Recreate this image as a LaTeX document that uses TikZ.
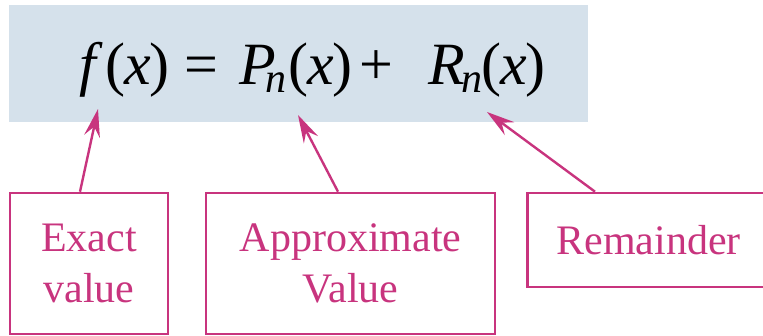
\documentclass[tikz,border=0pt]{standalone}
\usepackage{fontspec}
\setmainfont{Liberation Serif}
\usetikzlibrary{arrows.meta,calc}
\definecolor{mag}{HTML}{C8347E}
\definecolor{bluebg}{HTML}{D5E1EB}
\newcommand\subn{\raisebox{-8pt}{\fontsize{42}{42}\selectfont\itshape n}}
\newcommand\argx{(\kern-1.5pt\textit{x}\kern-1.5pt)}
\begin{document}
\begin{tikzpicture}[x=1pt,y=-1pt,
  term/.style={inner sep=0pt,anchor=base west,font=\fontsize{60}{60}\selectfont,text=black},
  lbl/.style={draw=mag,line width=2.6pt,text=mag,font=\fontsize{42}{51}\selectfont,align=center,inner sep=0pt},
  ptr/.style={draw=mag,line width=2.4pt,-{Stealth[length=28pt,width=16pt,inset=10pt]}}]
\useasboundingbox (0,0) rectangle (763,336);
\clip (0,0) rectangle (763,336);
\fill[bluebg] (9,5) rectangle (588,122);
% equation
\node[term] (tf) at (79,85) {\textit{f}\kern3pt\argx};
\node[term] (teq) at (184,85) {=};
\node[term] (tP) at (239,85) {\textit{P}\kern-10pt\subn\kern2pt\argx};
\node[term] (tplus) at (359,85) {+};
\node[term] (tR) at (428,85) {\textit{R}\kern-3pt\subn\kern-1pt\argx};
% targets
\coordinate (t1) at (98,109);
\coordinate (t2) at (298,115);
\coordinate (t3) at (487,112);
% label boxes
\node[lbl,minimum width=158pt,minimum height=141pt] (b1) at (89,263.5) {Exact\\value};
\node[lbl,minimum width=289pt,minimum height=141pt] (b2) at (350.5,263.5) {Approximate\\Value};
\node[lbl,minimum width=242.5pt,minimum height=94pt] (b3) at (648.75,240) {Remainder};
% arrows
\draw[ptr] ([xshift=-9pt]b1.north) -- (t1);
\draw[ptr] ([xshift=-12.5pt]b2.north) -- (t2);
\draw[ptr] ([xshift=-53.75pt]b3.north) -- (t3);
\end{tikzpicture}
\end{document}
